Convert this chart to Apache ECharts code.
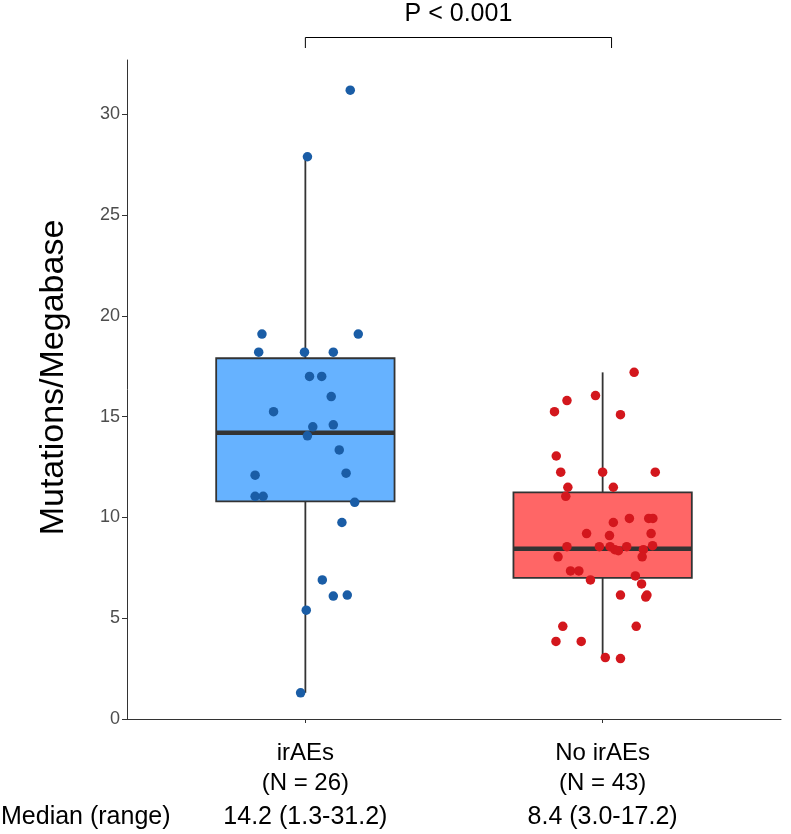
<!DOCTYPE html>
<html><head><meta charset="utf-8">
<script src="https://cdn.jsdelivr.net/npm/echarts@6/dist/echarts.min.js"></script>
<style>html,body{margin:0;padding:0;background:#fff}#c{width:791px;height:834px}</style>
</head><body><div id="c"></div>
<script>
// ---- data ----
const categories = ['irAEs', 'No irAEs'];
const groupN = [26, 43];
const categoryPos = [1, 2];
const medianRangeLabels = ['14.2 (1.3-31.2)', '8.4 (3.0-17.2)'];
const rowLabel = 'Median (range)';
const pLabel = 'P < 0.001';
const bracketEnds = [1.0, 2.03];
const yAxisName = 'Mutations/Megabase';
const yTicks = [0, 5, 10, 15, 20, 25, 30];
// [lower whisker, Q1, median, Q3, upper whisker]
const irAEsBox = [1.3, 10.8, 14.2, 17.9, 27.9];
const noIrAEsBox = [3.0, 7.0, 8.45, 11.25, 17.2];
// jittered points: [x position (category + jitter), mutations/Mb]
const irAEsPoints = [
  [1.151, 31.2], [1.007, 27.9], [0.854, 19.1], [1.178, 19.1], [0.843, 18.2],
  [0.997, 18.2], [1.094, 18.2], [1.014, 17.0], [1.055, 17.0], [1.087, 16.0],
  [0.893, 15.25], [1.025, 14.5], [1.094, 14.6], [1.007, 14.05], [1.114, 13.35],
  [0.831, 12.1], [1.137, 12.2], [0.831, 11.05], [0.858, 11.05], [1.166, 10.75],
  [1.123, 9.75], [1.057, 6.9], [1.094, 6.1], [1.141, 6.15], [1.003, 5.4],
  [0.984, 1.3]
];
const noIrAEsPoints = [
  [2.106, 17.2], [1.976, 16.05], [1.880, 15.8], [1.838, 15.25], [2.060, 15.1],
  [1.844, 13.05], [1.859, 12.25], [2.000, 12.25], [2.177, 12.25], [1.883, 11.5],
  [2.036, 11.5], [1.876, 11.05], [2.090, 9.95], [2.155, 9.95], [2.169, 9.95],
  [2.036, 9.75], [1.946, 9.2], [2.163, 9.2], [2.023, 9.1], [1.880, 8.55],
  [1.989, 8.55], [2.025, 8.55], [2.041, 8.4], [2.053, 8.35], [2.081, 8.55],
  [2.137, 8.4], [2.168, 8.6], [1.850, 8.05], [2.133, 8.05], [1.892, 7.35],
  [1.920, 7.35], [1.959, 6.9], [2.110, 7.1], [2.131, 6.7], [2.060, 6.15],
  [2.145, 6.05], [2.149, 6.15], [1.866, 4.6], [2.113, 4.6], [1.843, 3.85],
  [1.928, 3.85], [2.009, 3.05], [2.060, 3.0]
];

// ---- styles ----
const boxFill = ['#66B2FF', '#FF6666'];
const pointColor = ['#1A5DA6', '#D3171D'];
const boxWidthUnits = 0.6;
const sans = "'Liberation Sans', Arial, Helvetica, sans-serif";

const chart = echarts.init(document.getElementById('c'), null, {renderer: 'canvas'});

const boxData = [
  [categoryPos[0]].concat(irAEsBox),
  [categoryPos[1]].concat(noIrAEsBox)
];

chart.setOption({
  animation: false,
  backgroundColor: '#fff',
  grid: {left: 127, right: 10, top: 60, bottom: 115, containLabel: false},
  xAxis: {
    type: 'value', min: 0.4, max: 2.6,
    splitLine: {show: false},
    axisLine: {show: true, onZero: false, lineStyle: {color: '#333', width: 1}},
    axisTick: {show: true, length: 4, customValues: categoryPos, lineStyle: {color: '#333'}},
    axisLabel: {
      show: true, customValues: categoryPos, margin: 19, verticalAlign: 'top',
      formatter: function (v) {
        const i = Math.round(v) - 1;
        return '{a|' + categories[i] + '}\n{a|(N = ' + groupN[i] + ')}\n{b|' + medianRangeLabels[i] + '}';
      },
      rich: {
        a: {fontFamily: sans, fontSize: 24, color: '#000', lineHeight: 30, align: 'center'},
        b: {fontFamily: sans, fontSize: 25, color: '#000', lineHeight: 38, align: 'center'}
      }
    }
  },
  yAxis: {
    type: 'value', min: 0, max: 32.7,
    name: yAxisName, nameLocation: 'middle', nameRotate: 90, nameGap: 56,
    nameTextStyle: {fontFamily: sans, fontSize: 34, color: '#000', padding: [0, 0, 0, 24]},
    splitLine: {show: false},
    axisLine: {show: true, lineStyle: {color: '#333', width: 1}},
    axisTick: {show: true, length: 5, customValues: yTicks, lineStyle: {color: '#333'}},
    axisLabel: {show: true, customValues: yTicks, margin: 7, fontFamily: sans, fontSize: 18, color: '#4D4D4D'}
  },
  series: [
    {
      type: 'custom',
      z: 2,
      data: boxData,
      encode: {x: 0, y: [1, 2, 3, 4, 5]},
      renderItem: function (params, api) {
        const x = api.value(0);
        const lo = api.coord([x, api.value(1)]);
        const q1 = api.coord([x, api.value(2)]);
        const md = api.coord([x, api.value(3)]);
        const q3 = api.coord([x, api.value(4)]);
        const hi = api.coord([x, api.value(5)]);
        const w = api.size([boxWidthUnits, 0])[0];
        const cx = lo[0];
        const stroke = '#333333';
        return {
          type: 'group',
          children: [
            {type: 'line', shape: {x1: cx, y1: lo[1], x2: cx, y2: q1[1]}, style: {stroke: stroke, lineWidth: 1.8}},
            {type: 'line', shape: {x1: cx, y1: q3[1], x2: cx, y2: hi[1]}, style: {stroke: stroke, lineWidth: 1.8}},
            {type: 'rect', shape: {x: cx - w / 2, y: q3[1], width: w, height: q1[1] - q3[1]},
              style: {fill: boxFill[params.dataIndex], stroke: stroke, lineWidth: 1.8}},
            {type: 'line', shape: {x1: cx - w / 2, y1: md[1], x2: cx + w / 2, y2: md[1]},
              style: {stroke: stroke, lineWidth: 4.5}}
          ]
        };
      }
    },
    {
      type: 'scatter', z: 5, symbolSize: 9.5,
      itemStyle: {color: pointColor[0], opacity: 1},
      data: irAEsPoints
    },
    {
      type: 'scatter', z: 5, symbolSize: 9.5,
      itemStyle: {color: pointColor[1], opacity: 1},
      data: noIrAEsPoints
    }
  ]
});

// annotation: significance bracket and row label
const pL = chart.convertToPixel({gridIndex: 0}, [bracketEnds[0], 0]);
const pR = chart.convertToPixel({gridIndex: 0}, [bracketEnds[1], 0]);
const bTop = 37.5, bBot = 48;
chart.setOption({
  graphic: [
    {type: 'polyline', shape: {points: [[pL[0], bBot], [pL[0], bTop], [pR[0], bTop], [pR[0], bBot]]},
      style: {stroke: '#000', lineWidth: 1, fill: null}},
    {type: 'text', x: (pL[0] + pR[0]) / 2, y: 14,
      style: {text: pLabel, fontFamily: sans, fontSize: 25, fill: '#000', align: 'center', verticalAlign: 'middle'}},
    {type: 'text', x: 1, y: 817,
      style: {text: rowLabel, fontFamily: sans, fontSize: 25, fill: '#000', align: 'left', verticalAlign: 'middle'}}
  ]
});
</script>
</body></html>
